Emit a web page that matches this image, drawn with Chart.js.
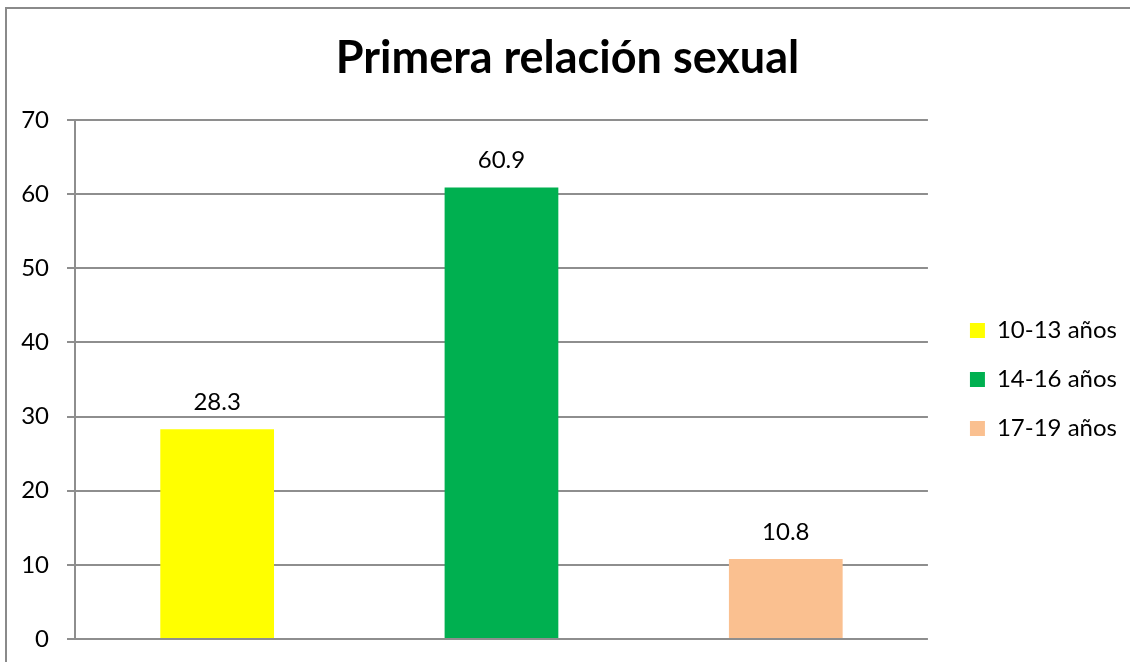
<!DOCTYPE html>
<html>
<head>
<meta charset="utf-8">
<script src="https://cdn.jsdelivr.net/npm/chart.js@4.4.1/dist/chart.umd.min.js"></script>
<style>
  html, body { margin: 0; padding: 0; background: #fff; overflow: hidden; }
  #wrap { position: relative; width: 1130px; height: 662px; overflow: hidden; }
  #frame { position: absolute; left: 5px; top: 7px; width: 1300px; height: 800px; border-left: 2px solid #8a8a8a; border-top: 2px solid #8a8a8a; box-sizing: border-box; }
  canvas { position: absolute; left: 0; top: 0; }
</style>
</head>
<body>
<div id="wrap">
  <div id="frame"></div>
  <canvas id="c" width="1130" height="662"></canvas>
</div>
<script>
const chartTitle = 'Primera relación sexual';
const categories = ['10-13 años', '14-16 años', '17-19 años'];
const values = [28.3, 60.9, 10.8];
const barColors = ['#FFFF00', '#00B050', '#FAC090'];
const yTicks = [0, 10, 20, 30, 40, 50, 60, 70];

const FONT = 'Lato, "Open Sans", sans-serif';
const GRID = '#8e8e8e';

const valueLabels = {
  id: 'valueLabels',
  afterDatasetsDraw(chart) {
    const ctx = chart.ctx;
    const meta = chart.getDatasetMeta(0);
    ctx.save();
    ctx.font = '24px ' + FONT;
    ctx.fillStyle = '#000';
    ctx.textAlign = 'center';
    ctx.textBaseline = 'alphabetic';
    meta.data.forEach((bar, i) => {
      ctx.fillText(String(chart.data.datasets[0].data[i]), bar.x, bar.y - 19);
    });
    ctx.restore();
  }
};

new Chart(document.getElementById('c'), {
  type: 'bar',
  data: {
    labels: categories,
    datasets: [{
      label: chartTitle,
      data: values,
      backgroundColor: barColors,
      borderWidth: 0,
      categoryPercentage: 1,
      barPercentage: 0.4
    }]
  },
  options: {
    responsive: false,
    animation: false,
    devicePixelRatio: 1,
    layout: { padding: { left: 8, right: 3, top: 0, bottom: 23 } },
    plugins: {
      title: {
        display: true,
        text: chartTitle,
        color: '#000',
        font: { family: FONT, size: 45, weight: 'bold' },
        padding: { top: 31, bottom: 35 }
      },
      legend: {
        display: true,
        position: 'right',
        fullSize: false,
        labels: {
          color: '#000',
          font: { family: FONT, size: 24 },
          boxWidth: 15,
          boxHeight: 15,
          padding: 25,
          generateLabels(chart) {
            const ds = chart.data.datasets[0];
            return chart.data.labels.map((l, i) => ({
              text: l,
              fillStyle: ds.backgroundColor[i],
              strokeStyle: ds.backgroundColor[i],
              lineWidth: 0,
              hidden: false,
              index: i
            }));
          }
        }
      },
      tooltip: { enabled: false }
    },
    scales: {
      x: { display: false },
      y: {
        min: 0,
        max: 70,
        afterBuildTicks(scale) { scale.ticks = yTicks.map(v => ({ value: v })); },
        afterFit(scale) { scale.width = 67; scale.paddingTop = 0; scale.paddingBottom = 0; },
        ticks: { color: '#000', font: { family: FONT, size: 24 }, padding: 18 },
        grid: { color: GRID, lineWidth: 2, tickLength: 8, drawTicks: true },
        border: { display: true, color: GRID, width: 2 }
      },
      gap: {
        type: 'linear',
        position: 'right',
        display: true,
        grid: { display: false, drawTicks: false },
        border: { display: false },
        ticks: { display: false },
        afterFit(scale) { scale.width = 17; scale.paddingTop = 0; scale.paddingBottom = 0; }
      }
    }
  },
  plugins: [valueLabels]
});
</script>
</body>
</html>
